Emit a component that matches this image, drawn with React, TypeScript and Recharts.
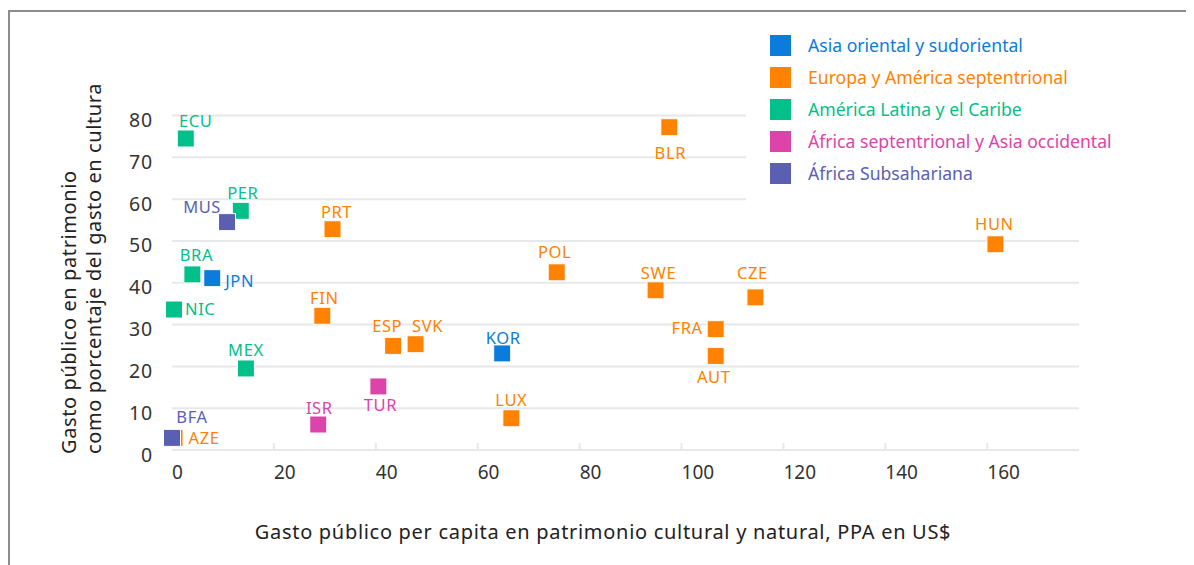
import React from 'react'
import { ScatterChart, Scatter, XAxis, YAxis, CartesianGrid, Legend } from 'recharts'

type Pt = { code: string; x: number; y: number }

const ASIA_ORIENTAL: Pt[] = [
  { code: 'JPN', x: 7.9, y: 41.1 },
  { code: 'KOR', x: 64.8, y: 23.1 },
]

const EUROPA_AMERICA_NORTE: Pt[] = [
  { code: 'AZE', x: 0.5, y: 2.9 },
  { code: 'PRT', x: 31.5, y: 52.8 },
  { code: 'FIN', x: 29.5, y: 32.1 },
  { code: 'ESP', x: 43.4, y: 24.9 },
  { code: 'SVK', x: 47.8, y: 25.3 },
  { code: 'LUX', x: 66.6, y: 7.6 },
  { code: 'POL', x: 75.5, y: 42.5 },
  { code: 'BLR', x: 97.6, y: 77.2 },
  { code: 'SWE', x: 94.9, y: 38.2 },
  { code: 'CZE', x: 114.5, y: 36.5 },
  { code: 'FRA', x: 106.7, y: 28.9 },
  { code: 'AUT', x: 106.7, y: 22.5 },
  { code: 'HUN', x: 161.6, y: 49.2 },
]

const AMERICA_LATINA: Pt[] = [
  { code: 'ECU', x: 2.7, y: 74.5 },
  { code: 'PER', x: 13.5, y: 57.2 },
  { code: 'BRA', x: 4.0, y: 42.0 },
  { code: 'NIC', x: 0.4, y: 33.6 },
  { code: 'MEX', x: 14.5, y: 19.5 },
]

const AFRICA_NORTE_ASIA_OCC: Pt[] = [
  { code: 'ISR', x: 28.7, y: 6.1 },
  { code: 'TUR', x: 40.5, y: 15.2 },
]

const AFRICA_SUBSAHARIANA: Pt[] = [
  { code: 'MUS', x: 10.8, y: 54.5 },
  { code: 'BFA', x: 0.0, y: 2.9 },
]

const X_TICKS = [0, 20, 40, 60, 80, 100, 120, 140, 160]
const Y_TICKS = [0, 10, 20, 30, 40, 50, 60, 70, 80]

const SERIES = [
  { name: 'Asia oriental y sudoriental', color: '#0b7bdc', data: ASIA_ORIENTAL },
  { name: 'Europa y América septentrional', color: '#ff8200', data: EUROPA_AMERICA_NORTE },
  { name: 'América Latina y el Caribe', color: '#03bf8a', data: AMERICA_LATINA },
  { name: 'África septentrional y Asia occidental', color: '#dd44aa', data: AFRICA_NORTE_ASIA_OCC },
  { name: 'África Subsahariana', color: '#5a5fb4', data: AFRICA_SUBSAHARIANA },
]

// label offset from the marker centre: [dx, dy, anchor]
const LABEL_POS: Record<string, [number, number, 'start' | 'middle' | 'end']> = {
  ECU: [10, -18, 'middle'],
  PER: [2, -18, 'middle'],
  MUS: [-6, -16, 'end'],
  BRA: [4, -20, 'middle'],
  JPN: [13, 2, 'start'],
  NIC: [11, -1, 'start'],
  MEX: [0, -19, 'middle'],
  PRT: [4, -18, 'middle'],
  FIN: [2, -18, 'middle'],
  ISR: [1, -17, 'middle'],
  BFA: [20, -21, 'middle'],
  AZE: [14, 0, 'start'],
  ESP: [-6, -20, 'middle'],
  SVK: [12, -19, 'middle'],
  TUR: [2, 18, 'middle'],
  KOR: [1, -16, 'middle'],
  LUX: [0, -19, 'middle'],
  POL: [-2, -21, 'middle'],
  BLR: [1, 25, 'middle'],
  HUN: [-1, -21, 'middle'],
  SWE: [3, -18, 'middle'],
  CZE: [-3, -25, 'middle'],
  FRA: [-13, -2, 'end'],
  AUT: [-2, 21, 'middle'],
}

const FONT = '"Noto Sans", sans-serif'
const GRID = '#e8e8e8'

const markerFor = (color: string) => (props: any) => {
  const { cx, cy, payload } = props
  const [dx, dy, anchor] = LABEL_POS[payload.code] || [0, -18, 'middle']
  return (
    <g>
      <rect x={cx - 8.5} y={cy - 8.5} width={17} height={17} fill={color} stroke="#fff" strokeWidth={1} />
      <text
        x={cx + dx}
        y={cy + dy}
        textAnchor={anchor}
        dominantBaseline="central"
        fill={color}
        fontSize={16.5}
        letterSpacing={0.6}
        fontFamily={FONT}
      >
        {payload.code}
      </text>
    </g>
  )
}

const XTick = (props: any) => {
  const { x, y, payload } = props
  return (
    <g>
      {payload.value !== 0 && <line x1={x} x2={x} y1={y - 7} y2={y} stroke={GRID} strokeWidth={2} />}
      <text x={x} y={y + 22} textAnchor="start" dominantBaseline="central" fontSize={19} fill="#333" fontFamily={FONT}>
        {payload.value}
      </text>
    </g>
  )
}

const YTick = (props: any) => {
  const { y, payload } = props
  return (
    <text
      x={145}
      y={y + 4}
      textAnchor="end"
      dominantBaseline="central"
      fontSize={19.5}
      letterSpacing={0.8}
      fill="#333"
      fontFamily={FONT}
    >
      {payload.value}
    </text>
  )
}

const LegendBox = () => (
  <div style={{ background: '#fff', width: 440, height: 185, paddingTop: 4, boxSizing: 'border-box' }}>
    {SERIES.map((s) => (
      <div key={s.name} style={{ display: 'flex', alignItems: 'center', height: 32 }}>
        <div style={{ width: 21, height: 21, background: s.color, marginLeft: 24, marginRight: 17 }} />
        <span style={{ color: s.color, fontSize: 17.6, fontFamily: FONT }}>{s.name}</span>
      </div>
    ))}
  </div>
)

export default function App() {
  return (
    <div style={{ position: 'relative', width: 1186, height: 557 }}>
      <div
        style={{
          position: 'absolute',
          left: 0,
          top: 2,
          right: 0,
          bottom: -10,
          borderTop: '2px solid #8c8c8c',
          borderLeft: '2px solid #8c8c8c',
        }}
      />
      <ScatterChart width={1186} height={557} margin={{ top: 107.5, right: 115, bottom: 85, left: 0 }}>
        <CartesianGrid horizontal vertical={false} stroke={GRID} strokeWidth={2} />
        <XAxis
          type="number"
          dataKey="x"
          domain={[0, 178]}
          ticks={X_TICKS}
          height={30}
          tickSize={0}
          tickMargin={0}
          tick={<XTick />}
          axisLine={{ stroke: GRID, strokeWidth: 2 }}
          tickLine={false}
          label={{
            content: () => (
              <text
                x={595}
                y={523}
                textAnchor="middle"
                dominantBaseline="central"
                fontSize={20}
                letterSpacing={0.7}
                fill="#222"
                fontFamily={FONT}
              >
                Gasto público per capita en patrimonio cultural y natural, PPA en US$
              </text>
            ),
          }}
        />
        <YAxis
          type="number"
          dataKey="y"
          domain={[0, 80]}
          ticks={Y_TICKS}
          width={164}
          axisLine={false}
          tickLine={false}
          tick={<YTick />}
          label={{
            content: () => (
              <g fontSize={20} letterSpacing={0.6} fill="#222" fontFamily={FONT}>
                <text x={68} y={446} transform="rotate(-90, 68, 446)" textAnchor="start">
                  Gasto público en patrimonio
                </text>
                <text x={93} y={446} transform="rotate(-90, 93, 446)" textAnchor="start">
                  como porcentaje del gasto en cultura
                </text>
              </g>
            ),
          }}
        />
        <Legend
          layout="horizontal"
          verticalAlign="middle"
          align="center"
          wrapperStyle={{ left: 738, top: 17, width: 440, height: 185 }}
          content={() => <LegendBox />}
        />
        {SERIES.map((s) => (
          <Scatter
            key={s.name}
            name={s.name}
            data={s.data}
            fill={s.color}
            isAnimationActive={false}
            shape={markerFor(s.color)}
          />
        ))}
      </ScatterChart>
    </div>
  )
}
